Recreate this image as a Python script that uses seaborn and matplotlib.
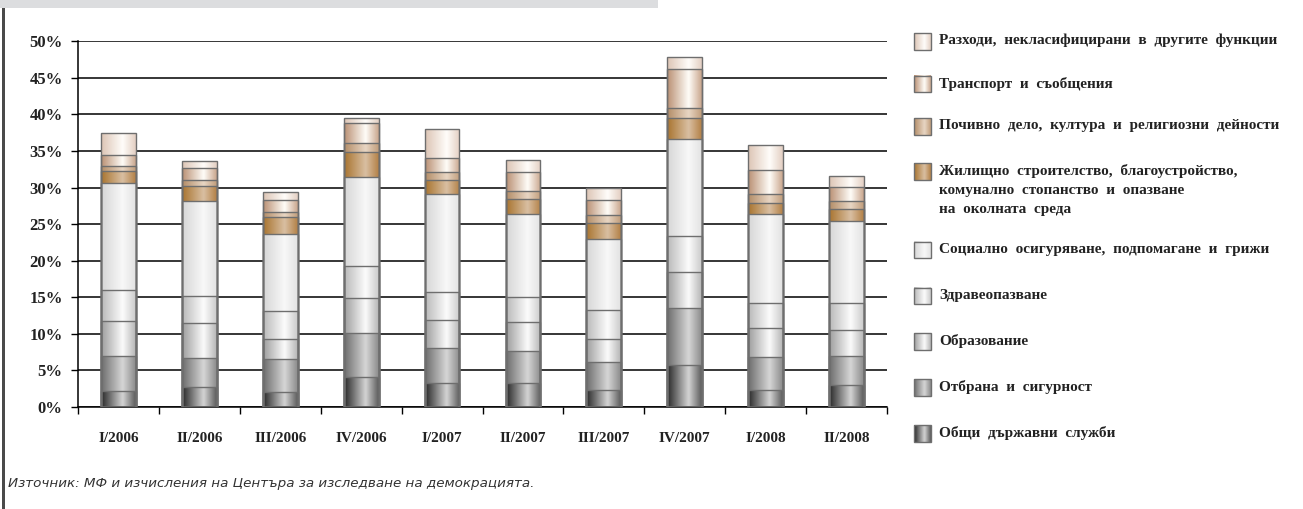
import numpy as np
import pandas as pd
import matplotlib
matplotlib.use("Agg")
import matplotlib.pyplot as plt
import seaborn as sns
from matplotlib.colors import LinearSegmentedColormap

# ---- data: share of expenditure by function, % ----
quarters = ["I/2006", "II/2006", "III/2006", "IV/2006", "I/2007",
            "II/2007", "III/2007", "IV/2007", "I/2008", "II/2008"]

general    = [2.19, 2.73, 2.05, 4.10, 3.28, 3.28, 2.32, 5.74, 2.32, 2.96]
defense    = [4.73, 3.96, 4.46, 6.01, 4.73, 4.37, 3.78, 7.78, 4.51, 4.01]
education  = [4.87, 4.79, 2.83, 4.74, 3.88, 3.96, 3.19, 4.92, 3.92, 3.55]
health     = [4.19, 3.68, 3.73, 4.37, 3.82, 3.42, 3.96, 4.92, 3.50, 3.69]
social     = [14.62, 13.03, 10.52, 12.16, 13.43, 11.29, 9.70, 13.25, 12.07, 11.20]
housing    = [1.73, 2.05, 2.37, 3.46, 1.87, 2.10, 2.19, 2.87, 1.55, 1.64]
recreation = [0.68, 0.82, 0.68, 1.23, 1.09, 1.13, 1.09, 1.37, 1.23, 1.09]
transport  = [1.42, 1.68, 1.64, 2.73, 1.92, 2.55, 2.05, 5.32, 3.28, 1.91]
other      = [3.00, 0.91, 1.09, 0.68, 3.96, 1.64, 1.64, 1.74, 3.41, 1.51]

labels = [
    "Общи държавни служби",
    "Отбрана и сигурност",
    "Образование",
    "Здравеопазване",
    "Социално осигуряване, подпомагане и грижи",
    "Жилищно строителство, благоустройство,\nкомунално стопанство и опазване\nна околната среда",
    "Почивно дело, култура и религиозни дейности",
    "Транспорт и съобщения",
    "Разходи, некласифицирани в другите функции",
]
values = [general, defense, education, health, social,
          housing, recreation, transport, other]

# cylinder-like shading per series: (left edge, highlight, right edge)
shades = [
    ("#262626", "#d4d4d4", "#5a5a5a"),
    ("#6c6c6c", "#d6d6d6", "#8a8a8a"),
    ("#9c9c9c", "#fbfbfb", "#b4b4b4"),
    ("#b8b8b8", "#fcfcfc", "#cacaca"),
    ("#d6d6d6", "#f8f8f8", "#e2e2e2"),
    ("#a8732e", "#d9bfa2", "#b38045"),
    ("#b38c66", "#e8d6c4", "#c09c7a"),
    ("#b98f72", "#fffdf8", "#c9a58c"),
    ("#dcc4b4", "#fffdfa", "#e3cfc2"),
]

def shade_cmap(c):
    return LinearSegmentedColormap.from_list("", [(0, c[0]), (0.62, c[1]), (1, c[2])])

df = pd.DataFrame(dict(zip(labels, values)), index=quarters)
cum = df.cumsum(axis=1)

W, H = 1303, 509
fig = plt.figure(figsize=(W / 100, H / 100), dpi=100)
sns.set_style("white")
plt.rcParams["font.family"] = ["Liberation Serif", "DejaVu Serif"]

ax = fig.add_axes([78 / W, 1 - 407 / H, (887 - 78) / W, (407 - 41.3) / H])

# draw cumulative totals from the top layer down so shorter bars overlay taller
gradient = np.linspace(0, 1, 256).reshape(1, -1)
layer_patches = []
for k in range(len(labels) - 1, -1, -1):
    n0 = len(ax.patches)
    sns.barplot(x=quarters, y=cum.iloc[:, k].values, ax=ax, width=0.43,
                color=shades[k][1], edgecolor="#6e6e6e", linewidth=1.0,
                saturation=1)
    layer_patches.append((k, ax.patches[n0:]))

order = 0
for k, patches in layer_patches:
    cmap = shade_cmap(shades[k])
    for p in patches:
        x0, y0 = p.get_x(), p.get_y()
        w, h = p.get_width(), p.get_height()
        im = ax.imshow(gradient, cmap=cmap, aspect="auto",
                       extent=[x0, x0 + w, y0, y0 + h], zorder=2 + order * 0.01,
                       interpolation="bicubic")
        im.set_clip_path(p)
        p.set_facecolor("none")
        p.set_zorder(4)
    order += 1

ax.set_xlim(-0.5, 9.5)
ax.set_ylim(0, 50)
ax.set_yticks(np.arange(0, 51, 5))
ax.set_yticklabels([f"{v}%" for v in range(0, 51, 5)], fontsize=12, fontweight="bold",
                   color="#222222")
ax.yaxis.grid(True, color="black", linewidth=1.1, zorder=0)
ax.set_axisbelow(True)
ax.tick_params(axis="y", length=5, width=1, color="black", pad=6, direction="out", left=True)

ax.set_xticks(range(len(quarters)))
ax.set_xticklabels(quarters, fontsize=11, fontweight="bold", color="#222222")
ax.set_xticks(np.arange(-0.5, 10, 1), minor=True)
ax.tick_params(axis="x", which="major", length=0, pad=18)
ax.tick_params(axis="x", which="minor", length=5, width=1, color="black", direction="out", bottom=True)
ax.set_xlabel("")
ax.set_ylabel("")
for s in ["top", "right"]:
    ax.spines[s].set_visible(False)
for s in ["left", "bottom"]:
    ax.spines[s].set_color("black")
    ax.spines[s].set_linewidth(1.1)

# overlay in pixel space for frame, legend and note
ov = fig.add_axes([0, 0, 1, 1], zorder=10)
ov.set_xlim(0, W)
ov.set_ylim(H, 0)
ov.axis("off")
ov.add_patch(plt.Rectangle((0, 0), 658, 8, color="#dcdddf", lw=0))
ov.add_patch(plt.Rectangle((2, 8), 3, H - 8, color="#4a4a4a", lw=0))

legend_y = [41.3, 84, 126.7, 171.7, 250, 296, 341.7, 387.3, 433.3]
legend_order = list(range(len(labels) - 1, -1, -1))
for yc, k in zip(legend_y, legend_order):
    x0, sz = 914, 16.5
    top = yc - sz / 2
    ov.imshow(gradient, cmap=shade_cmap(shades[k]), aspect="auto",
              extent=[x0, x0 + sz, top + sz, top], interpolation="bicubic", zorder=1)
    ov.add_patch(plt.Rectangle((x0, top), sz, sz, fill=False, ec="#6e6e6e", lw=1, zorder=2))
    txt = labels[k].replace(" ", "  ")
    ov.text(939, yc - 7.5, txt, fontsize=11, fontweight="bold", color="#222222",
            va="top", ha="left", linespacing=1.6)
ov.set_xlim(0, W)
ov.set_ylim(H, 0)

ov.text(8, 483, "Източник: МФ и изчисления на Центъра за изследване на демокрацията.",
        fontsize=9.7, style="italic", color="#333333", va="center", ha="left",
        family=["DejaVu Sans"])

fig.savefig("out.png", dpi=100)
